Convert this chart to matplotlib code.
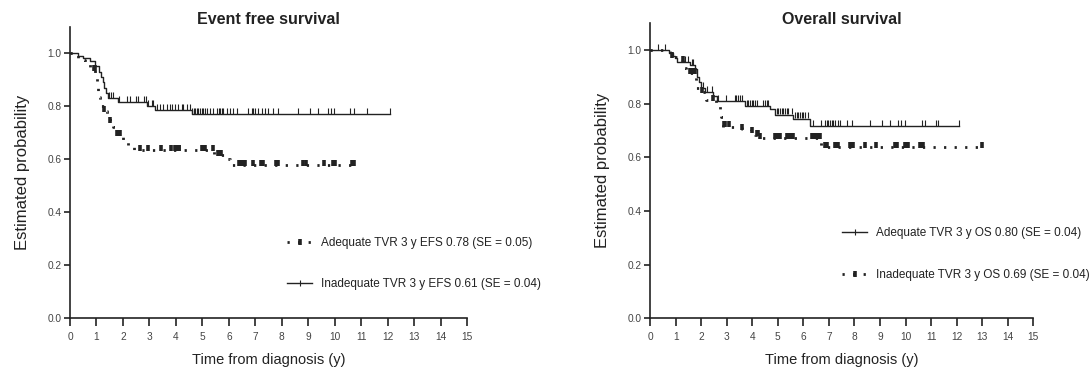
import matplotlib.pyplot as plt
import numpy as np
from matplotlib.lines import Line2D

plt.rcParams['font.family'] = ['Liberation Sans', 'DejaVu Sans']

# ---- Event free survival ----
efs_solid_t = [0, 0.31, 0.5, 0.76, 0.94, 1.1, 1.17, 1.23, 1.3, 1.37, 1.45, 1.83, 2.9, 3.2, 4.6]
efs_solid_s = [1.0, 0.99, 0.98, 0.97, 0.95, 0.93, 0.91, 0.89, 0.87, 0.85, 0.83, 0.815, 0.80, 0.785, 0.77]
efs_solid_cens = [1.49, 1.55, 1.64, 1.85, 2.17, 2.27, 2.49, 2.57, 2.80, 2.86, 2.96, 3.09, 3.15,
                  3.27, 3.40, 3.52, 3.65, 3.78, 3.84, 3.97, 4.09, 4.22, 4.28, 4.41, 4.53,
                  4.62, 4.68, 4.74, 4.79, 4.85, 4.91, 4.97, 5.04, 5.1, 5.16, 5.29, 5.41, 5.54,
                  5.62, 5.67, 5.73, 5.79, 5.92, 6.04, 6.17, 6.30, 6.74, 6.86, 6.93, 6.99, 7.11,
                  7.24, 7.37, 7.49, 7.68, 7.87, 8.62, 9.07, 9.38, 9.76, 9.85, 9.97, 10.58,
                  10.74, 11.21, 12.09]

efs_dot_t = [0, 0.32, 0.55, 0.74, 0.95, 1.01, 1.07, 1.14, 1.3, 1.39, 1.52, 1.64, 1.76, 2.01,
             2.2, 2.4, 5.45, 5.9, 6.05]
efs_dot_s = [1.0, 0.975, 0.96, 0.935, 0.905, 0.875, 0.835, 0.80, 0.78, 0.76, 0.74, 0.72, 0.69,
             0.67, 0.65, 0.635, 0.615, 0.60, 0.578]
efs_dot_cens = [0.92, 0.93, 1.3, 1.52, 1.78, 1.82, 1.9, 2.66, 2.93, 3.44, 3.82, 3.98, 4.03, 4.1,
                4.13, 4.98, 5.03, 5.1, 5.4, 5.6, 5.65, 5.7, 6.4, 6.47, 6.55, 6.62, 6.93, 7.2,
                7.3, 7.8, 7.87, 8.82, 8.9, 9.6, 9.93, 10.0, 10.65, 10.72]

# ---- Overall survival ----
os_solid_t = [0, 0.76, 0.9, 0.98, 1.04, 1.56, 1.76, 1.85, 1.92, 2.0, 2.15, 2.48, 2.61, 3.72,
              4.69, 4.89, 5.61, 6.26]
os_solid_s = [1.0, 0.99, 0.98, 0.97, 0.955, 0.945, 0.93, 0.90, 0.88, 0.86, 0.845, 0.83, 0.81,
              0.79, 0.78, 0.76, 0.745, 0.717]
os_solid_cens = [0.3, 0.58, 1.3, 1.37, 1.5, 1.63, 1.69, 2.09, 2.22, 2.41, 2.67, 2.99, 3.32, 3.38,
                 3.45, 3.52, 3.58, 3.78, 3.85, 3.91, 3.98, 4.04, 4.11, 4.18, 4.43, 4.50, 4.56,
                 4.63, 4.95, 5.02, 5.08, 5.15, 5.21, 5.28, 5.35, 5.41, 5.54, 5.67, 5.74, 5.80,
                 5.87, 5.93, 6.0, 6.07, 6.2, 6.39, 6.71, 6.85, 6.91, 6.98, 7.04, 7.11, 7.17,
                 7.24, 7.37, 7.43, 7.69, 7.89, 8.61, 9.06, 9.39, 9.71, 9.84, 9.97, 10.63,
                 10.76, 11.21, 11.28, 12.09]

os_dot_t = [0, 0.8, 1.1, 1.3, 1.4, 1.78, 2.0, 2.2, 2.6, 2.72, 2.78, 2.85, 3.4, 3.6, 3.95, 4.1,
            4.3, 6.7]
os_dot_s = [1.0, 0.975, 0.96, 0.935, 0.915, 0.86, 0.845, 0.815, 0.80, 0.78, 0.75, 0.715, 0.71,
            0.705, 0.695, 0.685, 0.672, 0.64]
os_dot_cens = [0.85, 1.28, 1.56, 1.62, 1.7, 1.76, 2.02, 2.48, 2.9, 2.95, 3.1, 3.61, 3.98, 4.17,
               4.22, 4.3, 4.89, 4.95, 5.02, 5.08, 5.35, 5.42, 5.5, 5.61, 6.33, 6.4, 6.5, 6.58,
               6.65, 6.85, 6.92, 7.24, 7.3, 7.37, 7.82, 7.88, 7.95, 8.4, 8.86, 9.58, 9.65,
               9.97, 10.05, 10.1, 10.56, 10.63, 10.7, 12.98]

ink = '#222222'
solid_kw = dict(color=ink, lw=1.0)
dot_kw = dict(color=ink, lw=2.0, linestyle=(0, (0.8, 3.0)), dash_capstyle='butt')


def km(ax, t, s, cens, dotted):
    t = np.asarray(t)
    s = np.asarray(s)
    cens = np.asarray(cens)
    end = max(t.max(), cens.max())
    tt = np.append(t, end)
    ss = np.append(s, s[-1])
    kw = dot_kw if dotted else solid_kw
    ax.step(tt, ss, where='post', **kw)
    cs = s[np.searchsorted(t, cens, side='right') - 1]
    if dotted:
        ax.plot(cens, cs + 0.008, ls='none', marker='|', ms=5, mew=2.6, color=ink)
    else:
        ax.plot(cens, cs + 0.012, ls='none', marker='|', ms=5, mew=0.8, color=ink)


def style(ax, title):
    ax.set_xlim(0, 15)
    ax.set_ylim(0, 1.1)
    ax.set_xticks(range(16))
    ax.set_yticks([0, 0.2, 0.4, 0.6, 0.8, 1.0])
    ax.set_yticklabels(['0.0', '0.2', '0.4', '0.6', '0.8', '1.0'])
    for sp in ['top', 'right']:
        ax.spines[sp].set_visible(False)
    for sp in ['left', 'bottom']:
        ax.spines[sp].set_linewidth(1.2)
        ax.spines[sp].set_color(ink)
    ax.tick_params(axis='x', length=6, width=1.2, color=ink, labelsize=7.3,
                   labelcolor='#444444', pad=4)
    ax.tick_params(axis='y', length=4, width=1.2, color=ink, labelsize=7.3,
                   labelcolor='#444444', pad=2)
    ax.set_xlabel('Time from diagnosis (y)', fontsize=10.5, color=ink, labelpad=8)
    ax.set_ylabel('Estimated probability', fontsize=12, color=ink, labelpad=13)
    pos = ax.get_position()
    fig.text((pos.x0 + pos.x1) / 2, 1 - 20 / 371, title, fontsize=11.5, fontweight='bold',
             color=ink, ha='center', va='center')


h_solid = Line2D([], [], marker='|', ms=5, mew=0.8, **solid_kw)
h_dot = Line2D([], [], marker='|', ms=5, mew=2.6, **dot_kw)

leg_kw = dict(loc='center left', frameon=False, fontsize=8.5, handlelength=2.1,
              handletextpad=0.75, labelspacing=2.5, borderpad=0, borderaxespad=0,
              numpoints=1, labelcolor=ink)

fig = plt.figure(figsize=(10.89, 3.71), dpi=100)
ax1 = fig.add_axes([0.0643, 0.143, 0.3646, 0.785])
ax2 = fig.add_axes([0.5969, 0.142, 0.352, 0.795])

km(ax1, efs_solid_t, efs_solid_s, efs_solid_cens, False)
km(ax1, efs_dot_t, efs_dot_s, efs_dot_cens, True)
style(ax1, 'Event free survival')
ax1.legend([h_dot, h_solid],
           ['Adequate TVR 3 y EFS 0.78 (SE = 0.05)', 'Inadequate TVR 3 y EFS 0.61 (SE = 0.04)'],
           bbox_to_anchor=(0.547, 0.187), **leg_kw)

km(ax2, os_solid_t, os_solid_s, os_solid_cens, False)
km(ax2, os_dot_t, os_dot_s, os_dot_cens, True)
style(ax2, 'Overall survival')
ax2.legend([h_solid, h_dot],
           ['Adequate TVR 3 y OS 0.80 (SE = 0.04)', 'Inadequate TVR 3 y OS 0.69 (SE = 0.04)'],
           bbox_to_anchor=(0.502, 0.218), **leg_kw)

fig.savefig('out.png', dpi=100)
